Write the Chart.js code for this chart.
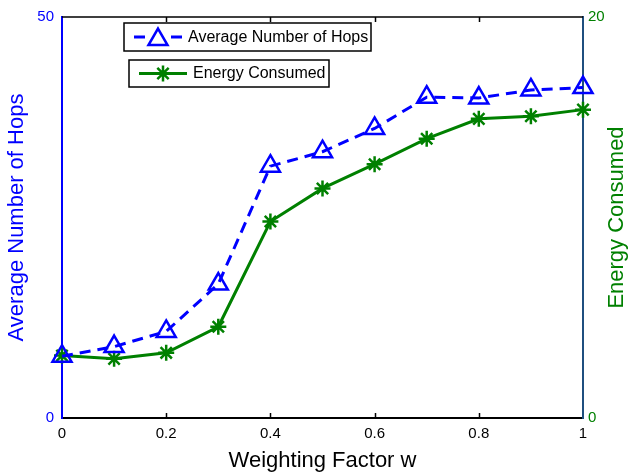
<!DOCTYPE html>
<html lang="en">
<head>
    <meta charset="UTF-8">
    <title>Hops and Energy vs Weighting Factor</title>
    <script src="https://cdn.jsdelivr.net/npm/chart.js"></script>
    <style>
        html, body { margin: 0; padding: 0; background: #fff; }
        #wrap { width: 629px; height: 476px; }
    </style>
</head>
<body>
    <div id="wrap"><canvas id="hopsChart"></canvas></div>
    <script>
        // data
        const weights = [0, 0.1, 0.2, 0.3, 0.4, 0.5, 0.6, 0.7, 0.8, 0.9, 1];
        const avgHops = [7.7, 8.9, 10.8, 16.7, 31.4, 33.2, 36.1, 40.0, 39.9, 40.9, 41.2];
        const energy = [3.12, 2.95, 3.25, 4.55, 9.8, 11.45, 12.66, 13.93, 14.92, 15.05, 15.38];

        const xTicks = [0, 0.2, 0.4, 0.6, 0.8, 1];
        const xTickLabels = ['0', '0.2', '0.4', '0.6', '0.8', '1'];
        const hopsTicks = [0, 50];
        const energyTicks = [0, 20];

        const seriesNames = ['Average Number of Hops', 'Energy Consumed'];
        const xTitle = 'Weighting Factor w';

        const BLUE = '#0000ff';
        const GREEN = '#008000';
        const FONT = "'Liberation Sans', Arial, sans-serif";

        function drawTriangle(ctx, x, y, r) {
            ctx.beginPath();
            for (let i = 0; i < 3; i++) {
                const a = i * 2 * Math.PI / 3;
                const px = x + Math.sin(a) * r, py = y - Math.cos(a) * r;
                if (i === 0) ctx.moveTo(px, py); else ctx.lineTo(px, py);
            }
            ctx.closePath();
            ctx.stroke();
        }

        function drawStar(ctx, x, y, r) {
            ctx.beginPath();
            for (let i = 0; i < 4; i++) {
                const a = i * Math.PI / 4;
                ctx.moveTo(x + Math.cos(a) * r, y + Math.sin(a) * r);
                ctx.lineTo(x - Math.cos(a) * r, y - Math.sin(a) * r);
            }
            ctx.stroke();
        }

        // top frame, inward x ticks, legend boxes, right axis title
        const decorations = {
            id: 'decorations',
            beforeDatasetsDraw(chart) {
                const { ctx, chartArea: a } = chart;
                const xs = chart.scales.x;
                ctx.save();
                ctx.strokeStyle = '#000';
                ctx.lineWidth = 1.5;
                ctx.beginPath();
                ctx.moveTo(a.left, a.top);
                ctx.lineTo(a.right, a.top);
                xTicks.slice(1, -1).forEach(v => {
                    const px = Math.round(xs.getPixelForValue(v)) + 0.5;
                    ctx.moveTo(px, a.top);
                    ctx.lineTo(px, a.top + 5);
                    ctx.moveTo(px, a.bottom);
                    ctx.lineTo(px, a.bottom - 5);
                });
                ctx.stroke();
                ctx.restore();
            },
            afterDraw(chart) {
                const { ctx, chartArea: a } = chart;
                ctx.save();

                // legend 1
                ctx.fillStyle = '#fff';
                ctx.strokeStyle = '#000';
                ctx.lineWidth = 1.5;
                ctx.fillRect(124, 23, 247, 28);
                ctx.strokeRect(124, 23, 247, 28);
                ctx.strokeStyle = BLUE;
                ctx.lineWidth = 3;
                ctx.beginPath();
                ctx.moveTo(134, 37); ctx.lineTo(145, 37);
                ctx.moveTo(171, 37); ctx.lineTo(182, 37);
                ctx.stroke();
                ctx.lineWidth = 2.5;
                drawTriangle(ctx, 158, 39.5, 11);
                ctx.fillStyle = '#000';
                ctx.font = '16px ' + FONT;
                ctx.textBaseline = 'middle';
                ctx.textAlign = 'left';
                ctx.fillText(seriesNames[0], 188, 38);

                // legend 2
                ctx.fillStyle = '#fff';
                ctx.strokeStyle = '#000';
                ctx.lineWidth = 1.5;
                ctx.fillRect(129, 60, 200, 27);
                ctx.strokeRect(129, 60, 200, 27);
                ctx.strokeStyle = GREEN;
                ctx.lineWidth = 3;
                ctx.beginPath();
                ctx.moveTo(139, 73.5); ctx.lineTo(187, 73.5);
                ctx.stroke();
                ctx.lineWidth = 2.5;
                drawStar(ctx, 163, 73.5, 8);
                ctx.fillStyle = '#000';
                ctx.fillText(seriesNames[1], 193, 74);

                // right axis title, reading upward
                ctx.translate(617, (a.top + a.bottom) / 2);
                ctx.rotate(-Math.PI / 2);
                ctx.fillStyle = GREEN;
                ctx.font = '22px ' + FONT;
                ctx.textAlign = 'center';
                ctx.fillText(seriesNames[1], 0, 0);
                ctx.restore();
            }
        };

        const hopsPoints = weights.map((w, i) => ({ x: w, y: avgHops[i] }));
        const energyPoints = weights.map((w, i) => ({ x: w, y: energy[i] }));

        const config = {
            type: 'line',
            data: {
                datasets: [{
                    label: seriesNames[0],
                    data: hopsPoints,
                    yAxisID: 'yHops',
                    borderColor: BLUE,
                    backgroundColor: 'transparent',
                    borderWidth: 3,
                    borderDash: [11, 7],
                    pointStyle: 'triangle',
                    pointRadius: 11,
                    pointBorderWidth: 2.5,
                    pointBorderColor: BLUE,
                    pointBackgroundColor: 'transparent',
                    tension: 0,
                    clip: false
                }, {
                    label: seriesNames[1],
                    data: energyPoints,
                    yAxisID: 'yEnergy',
                    borderColor: GREEN,
                    backgroundColor: 'transparent',
                    borderWidth: 3,
                    pointStyle: 'star',
                    pointRadius: 8,
                    pointBorderWidth: 2.5,
                    pointBorderColor: GREEN,
                    pointBackgroundColor: 'transparent',
                    tension: 0,
                    clip: false
                }]
            },
            options: {
                responsive: true,
                maintainAspectRatio: false,
                animation: false,
                events: [],
                layout: { padding: { top: 14, left: 0, right: 0, bottom: 0 } },
                plugins: {
                    legend: { display: false },
                    tooltip: { enabled: false }
                },
                scales: {
                    x: {
                        type: 'linear',
                        min: 0,
                        max: 1,
                        afterBuildTicks: s => { s.ticks = xTicks.map(v => ({ value: v })); },
                        afterFit: s => { s.height = 58; },
                        grid: { display: false, drawTicks: false },
                        border: { display: true, color: '#000', width: 2 },
                        ticks: {
                            color: '#000', padding: 7, maxRotation: 0,
                            font: { size: 15, family: FONT },
                            callback: (v, i) => xTickLabels[i]
                        },
                        title: { display: true, text: xTitle, color: '#000', padding: { top: 0, bottom: 2 }, font: { size: 22, family: FONT } }
                    },
                    yHops: {
                        type: 'linear',
                        position: 'left',
                        min: 0,
                        max: 50,
                        afterBuildTicks: s => { s.ticks = hopsTicks.map(v => ({ value: v })); },
                        afterFit: s => { s.width = 62; },
                        grid: { display: false, drawTicks: false },
                        border: { display: true, color: BLUE, width: 2 },
                        ticks: { color: BLUE, padding: 8, font: { size: 15, family: FONT } },
                        title: { display: true, text: seriesNames[0], color: BLUE, padding: { top: 4, bottom: 0 }, font: { size: 22, family: FONT } }
                    },
                    yEnergy: {
                        type: 'linear',
                        position: 'right',
                        min: 0,
                        max: 20,
                        afterBuildTicks: s => { s.ticks = energyTicks.map(v => ({ value: v })); },
                        afterFit: s => { s.width = 46; },
                        grid: { display: false, drawTicks: false },
                        border: { display: true, color: '#1f4f7f', width: 2 },
                        ticks: { color: GREEN, padding: 5, font: { size: 15, family: FONT } }
                    }
                }
            },
            plugins: [decorations]
        };

        new Chart(document.getElementById('hopsChart'), config);
    </script>
</body>
</html>
